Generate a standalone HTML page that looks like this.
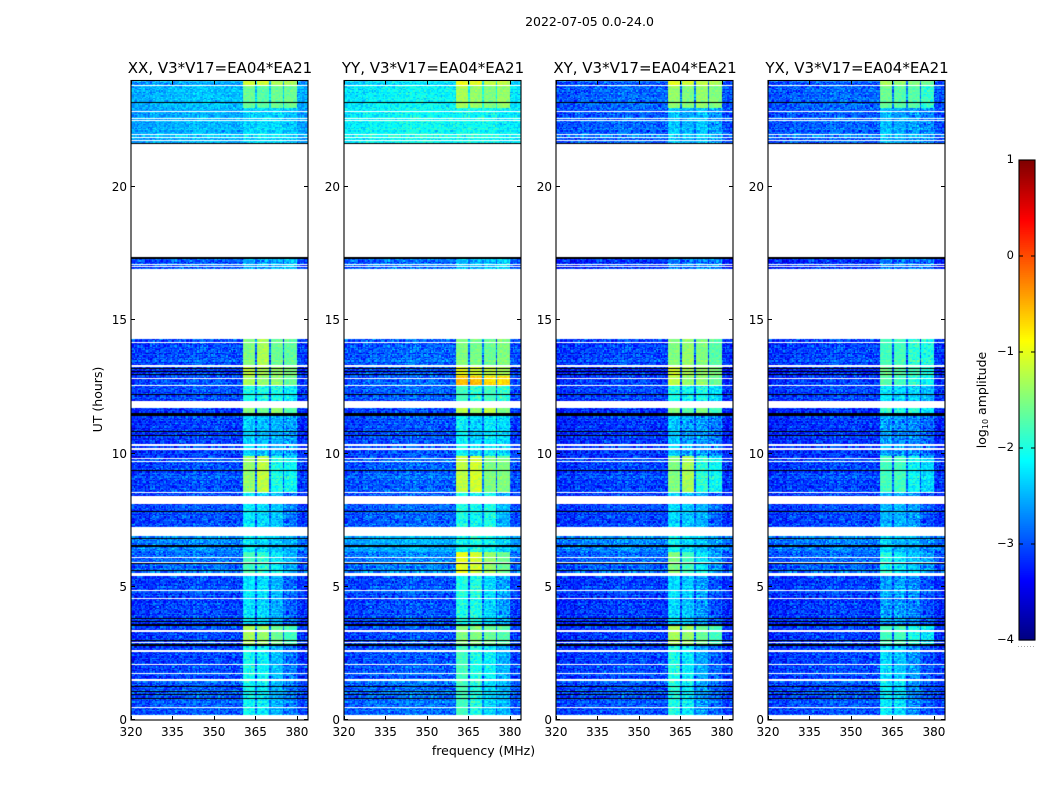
<!DOCTYPE html>
<html lang="en">
<head>
<meta charset="utf-8">
<title>2022-07-05 waterfall</title>
<style>
html,body{margin:0;padding:0;background:#fff;}
#figure{position:relative;width:1050px;height:800px;overflow:hidden;background:#fff;}
canvas{position:absolute;display:block;}
svg{position:absolute;left:0;top:0;}
text{font-family:"DejaVu Sans","Liberation Sans",sans-serif;fill:#000;}
</style>
</head>
<body>
<div id="figure">
<canvas id="hm0" style="left:131px;top:80px" width="177" height="640"></canvas>
<canvas id="hm1" style="left:344px;top:80px" width="177" height="640"></canvas>
<canvas id="hm2" style="left:556px;top:80px" width="177" height="640"></canvas>
<canvas id="hm3" style="left:768px;top:80px" width="177" height="640"></canvas>
<svg id="overlay" width="1050" height="800" viewBox="0 0 1050 800">
<text x="589.5" y="26" text-anchor="middle" font-size="12.5">2022-07-05 0.0-24.0</text>
<text x="483.5" y="755" text-anchor="middle" font-size="12.5">frequency (MHz)</text>
<text transform="translate(102,399.5) rotate(-90)" text-anchor="middle" font-size="12.5">UT (hours)</text>
<text transform="translate(986,400) rotate(-90)" text-anchor="middle" font-size="12.5">log<tspan font-size="8" dy="2">10</tspan><tspan dy="-2"> amplitude</tspan></text>
</svg>
</div>
<script>
// Observation blocks in UT hours
const blockStart = [23.79,22.95,21.65,16.92,13.30,12.90,12.57,11.80,11.50,9.90,8.56,6.90,6.30,5.50,3.60,2.80,1.45,0.19];
const blockEnd   = [23.98,23.79,22.95,17.37,14.30,13.30,12.90,12.57,11.80,11.50,9.90,8.56,6.90,6.30,5.50,3.60,2.80,1.45];

// Off-band log10 amplitude per block
const offXX = [-2.6,-2.5,-2.55,-3.0,-3.05,-3.15,-3.05,-3.05,-3.15,-3.15,-3.05,-3.05,-2.75,-2.9,-3.1,-3.1,-3.1,-3.0];
const offYY = [-2.3,-2.2,-2.15,-2.9,-2.95,-3.05,-2.95,-2.95,-3.05,-3.05,-2.95,-2.95,-2.55,-2.8,-3.05,-3.05,-3.0,-2.9];
const offXY = [-3.0,-2.95,-2.95,-3.2,-3.1,-3.25,-3.15,-3.1,-3.2,-3.2,-3.1,-3.1,-2.75,-2.95,-3.15,-3.15,-3.1,-3.05];
const offYX = [-3.0,-2.95,-2.95,-3.2,-3.1,-3.25,-3.15,-3.1,-3.2,-3.2,-3.1,-3.1,-2.8,-2.95,-3.15,-3.15,-3.1,-3.05];

// Sub-band log10 amplitude per block (four sub-bands)
const subXX = [[-1.1,-1.1,-1.3,-1.3],[-1.6,-1.7,-1.6,-1.6],[-2.35,-2.3,-2.3,-2.4],[-2.5,-2.6,-2.5,-2.4],[-1.5,-1.3,-1.6,-1.65],[-1.2,-1.3,-1.4,-1.5],[-1.3,-1.4,-1.4,-1.6],[-2.0,-2.0,-2.0,-2.2],[-1.5,-1.6,-1.4,-1.7],[-2.35,-2.45,-2.5,-2.6],[-1.4,-1.2,-2.0,-2.1],[-2.2,-2.3,-2.4,-2.8],[-2.2,-2.3,-2.4,-2.5],[-1.8,-1.9,-2.2,-2.5],[-2.25,-2.3,-2.5,-2.9],[-1.3,-1.4,-1.6,-1.8],[-2.05,-2.15,-2.45,-2.8],[-2.1,-2.2,-2.5,-2.8]];
const subYY = [[-0.95,-1.0,-1.2,-1.2],[-1.3,-1.4,-1.5,-1.4],[-2.1,-2.1,-2.1,-2.2],[-2.4,-2.5,-2.4,-2.3],[-1.5,-1.55,-1.6,-1.5],[-1.0,-1.1,-1.2,-1.3],[-0.55,-0.55,-0.7,-0.7],[-1.8,-1.9,-1.8,-1.9],[-1.25,-1.4,-1.2,-1.5],[-2.15,-2.35,-2.2,-2.3],[-1.2,-1.1,-1.5,-1.5],[-2.0,-2.1,-2.0,-2.5],[-2.1,-2.0,-2.1,-2.3],[-1.0,-1.1,-1.4,-1.6],[-2.0,-2.0,-2.3,-2.6],[-1.5,-1.5,-1.6,-1.7],[-1.8,-2.0,-2.15,-2.5],[-1.8,-2.0,-2.3,-2.5]];
const subXY = [[-1.0,-1.1,-1.2,-1.3],[-1.4,-1.5,-1.4,-1.5],[-2.4,-2.5,-2.4,-2.6],[-2.7,-2.8,-2.7,-2.7],[-1.5,-1.4,-1.5,-1.7],[-1.1,-1.3,-1.4,-1.5],[-1.2,-1.4,-1.4,-1.6],[-2.0,-2.1,-2.0,-2.3],[-1.5,-1.7,-1.5,-1.8],[-2.4,-2.6,-2.6,-2.8],[-1.5,-1.3,-1.9,-2.1],[-2.3,-2.4,-2.5,-2.9],[-2.1,-2.3,-2.4,-2.6],[-1.5,-1.8,-2.2,-2.6],[-2.3,-2.4,-2.6,-3.0],[-1.3,-1.4,-1.6,-1.8],[-2.0,-2.2,-2.55,-2.9],[-2.0,-2.2,-2.6,-2.9]];
const subYX = [[-1.3,-1.4,-1.5,-1.6],[-1.6,-1.7,-1.7,-1.9],[-2.45,-2.55,-2.6,-2.7],[-2.7,-2.8,-2.8,-2.8],[-1.8,-1.8,-1.9,-2.0],[-1.6,-1.7,-1.8,-2.0],[-1.7,-1.8,-1.9,-2.1],[-2.2,-2.3,-2.3,-2.5],[-1.9,-2.0,-1.9,-2.2],[-2.6,-2.7,-2.7,-2.9],[-1.8,-1.8,-2.1,-2.3],[-2.5,-2.5,-2.6,-3.0],[-2.3,-2.5,-2.5,-2.7],[-2.0,-2.2,-2.4,-2.6],[-2.6,-2.6,-2.7,-3.0],[-1.8,-1.8,-2.0,-2.2],[-2.3,-2.4,-2.65,-3.0],[-2.2,-2.3,-2.7,-3.0]];

// Sub-band edges in MHz
const subStart = [360.4,365.7,370.5,375.6];
const subEnd   = [364.8,369.8,374.9,379.8];

// Off-band spectral trend, one value per 8 MHz
const spectralTrend = [-0.05,0.0,0.06,0.08,0.04,0.0,0.0,-0.05,-0.2];

// Flagged (no data) intervals in UT hours
const gapStart = [23.78,22.81,22.55,22.48,21.97,21.84,21.74,17.37,17.09,16.99,14.30,14.15,13.30,13.25,12.80,12.55,11.76,11.70,10.30,10.15,9.79,9.67,8.52,8.10,6.90,6.08,5.90,5.42,4.85,4.55,3.31,2.88,2.57,2.07,1.73,1.48,0.46,0];
const gapEnd   = [23.82,22.85,22.60,22.52,22.01,21.88,21.78,21.60,17.13,17.03,16.92,14.19,13.34,13.29,12.84,12.59,11.97,11.74,10.34,10.19,9.85,9.71,8.56,8.42,7.24,6.12,5.94,5.50,4.89,4.59,3.38,2.92,2.61,2.11,1.77,1.52,0.50,0.19];

// Dark rows (very low amplitude) in UT hours
const darkStart = [23.16,21.63,17.30,13.18,13.05,12.93,12.21,11.41,10.81,10.64,9.36,7.82,6.80,6.51,5.86,5.60,3.79,3.67,3.52,2.96,2.77,1.23,1.04,0.92,0.77];
const darkEnd   = [23.20,21.67,17.38,13.22,13.09,12.97,12.25,11.52,10.85,10.68,9.40,7.86,6.84,6.55,5.90,5.64,3.83,3.71,3.59,3.00,2.85,1.27,1.08,0.96,0.81];

// Fixed speckle tables for receiver-noise texture
const speckleA = [0.12,-0.21,0.05,0.31,-0.09,-0.27,0.18,0.02,-0.14,0.26,-0.33,0.09,0.21,-0.05,-0.18,0.34,-0.24,0.07,0.15,-0.30,0.01,0.24,-0.11,-0.02,0.29,-0.19,0.11,-0.36,0.17,0.04,-0.08,0.22,-0.26,0.13,-0.16,0.28,-0.03];
const speckleB = [-0.08,0.14,-0.19,0.03,0.21,-0.12,0.07,-0.23,0.16,0.01,-0.06,0.19,-0.15,0.10,-0.02,0.24,-0.17,0.05,-0.10,0.12,-0.21,0.08,0.02];
const rowEffect = [0.04,-0.10,0.07,-0.03,0.12,-0.07,0.00,0.09,-0.12,0.05,-0.04,0.10,-0.08,0.02,0.06,-0.11,0.03,0.08,-0.05];

// Tick labels
const freqTicks = [320,335,350,365,380];
const hourTicks = [0,5,10,15,20];
const colorTicks = [-4,-3,-2,-1,0,1];
const colorTickLabels = ['\u22124','\u22123','\u22122','\u22121','0','1'];

const panelNames = ['XX','YY','XY','YX'];
const panelOff = [offXX,offYY,offXY,offYX];
const panelSub = [subXX,subYY,subXY,subYX];
const panelTitles = ['XX, V3*V17=EA04*EA21','YY, V3*V17=EA04*EA21','XY, V3*V17=EA04*EA21','YX, V3*V17=EA04*EA21'];

const SVGNS = 'http://www.w3.org/2000/svg';
const overlay = document.getElementById('overlay');
const plotLeft = [131,344,556,768];
const plotWidth = 177;
const plotTop = 80.5;
const plotBottom = 720;
const freqMin = 320, freqMax = 384, hourMax = 24;
const nChan = 128, nRow = 512;

function xScale(f, left){ return left + (f - freqMin) / (freqMax - freqMin) * plotWidth; }
function yScale(h){ return plotBottom - h / hourMax * (plotBottom - plotTop); }
function clamp01(v){ return Math.max(0, Math.min(1, v)); }
function jet(v){
  const t = clamp01((v + 4) / 5);
  const r = clamp01(1.5 - Math.abs(4 * t - 3));
  const g = clamp01(1.5 - Math.abs(4 * t - 2));
  const b = clamp01(1.5 - Math.abs(4 * t - 1));
  return 'rgb(' + Math.round(r * 255) + ',' + Math.round(g * 255) + ',' + Math.round(b * 255) + ')';
}
function levelAt(f, block, off, sub, ch, row){
  let base = off[block] + spectralTrend[Math.min(spectralTrend.length - 1, Math.floor((f - freqMin) / 8))];
  let inBand = false;
  for (let s = 0; s < subStart.length; s++) {
    if (f >= subStart[s] && f <= subEnd[s]) { base = sub[block][s]; inBand = true; }
  }
  if (!inBand && f > subStart[0] && f < subEnd[3]) base += 0.15;
  let amp = 1;
  if (base > -1.9) amp = 0.35;
  else if (base > -2.6) amp = 0.7;
  const a = speckleA[(ch * ch * 3 + row * row * 5 + ch * row) % speckleA.length];
  const b = speckleB[(ch * ch * 2 + row * row * 7 + ch * row * 3) % speckleB.length];
  return base + amp * (a + b + rowEffect[row % rowEffect.length]);
}
function drawHeatmap(p){
  const ctx = document.getElementById('hm' + p).getContext('2d');
  const ox = plotLeft[p], oy = 80;
  const off = panelOff[p], sub = panelSub[p];
  const chanWidth = (freqMax - freqMin) / nChan, rowHeight = hourMax / nRow;
  for (let b = 0; b < blockStart.length; b++) {
    const r0 = Math.floor(blockStart[b] / rowHeight), r1 = Math.ceil(blockEnd[b] / rowHeight);
    for (let r = r0; r < r1; r++) {
      const hLow = Math.max(blockStart[b], r * rowHeight), hHigh = Math.min(blockEnd[b], (r + 1) * rowHeight);
      const y0 = Math.round(yScale(hHigh)) - oy, y1 = Math.round(yScale(hLow)) - oy;
      if (y1 <= y0) continue;
      for (let c = 0; c < nChan; c++) {
        const f = freqMin + c * chanWidth;
        const x0 = Math.round(xScale(f, ox)) - ox, x1 = Math.round(xScale(f + chanWidth, ox)) - ox;
        if (x1 <= x0) continue;
        ctx.fillStyle = jet(levelAt(f + chanWidth / 2, b, off, sub, c, r));
        ctx.fillRect(x0, y0, x1 - x0, y1 - y0);
      }
    }
  }
  ctx.fillStyle = '#fff';
  for (let i = 0; i < gapStart.length; i++) {
    const y0 = Math.round(yScale(gapEnd[i])) - oy, y1 = Math.round(yScale(gapStart[i])) - oy;
    ctx.fillRect(0, y0, plotWidth, Math.max(1, y1 - y0));
  }
  ctx.fillStyle = '#000';
  for (let i = 0; i < darkStart.length; i++) {
    const y0 = Math.round(yScale(darkEnd[i])) - oy, y1 = Math.round(yScale(darkStart[i])) - oy;
    ctx.fillRect(0, y0, plotWidth, Math.max(1, y1 - y0));
  }
}
function line(x1, y1, x2, y2){
  const el = document.createElementNS(SVGNS, 'line');
  el.setAttribute('x1', x1);
  el.setAttribute('y1', y1);
  el.setAttribute('x2', x2);
  el.setAttribute('y2', y2);
  el.setAttribute('stroke', '#000');
  el.setAttribute('stroke-width', '1');
  overlay.appendChild(el);
  return el;
}
function label(str, x, y, anchor, size){
  const el = document.createElementNS(SVGNS, 'text');
  el.setAttribute('x', x);
  el.setAttribute('y', y);
  el.setAttribute('text-anchor', anchor);
  el.setAttribute('font-size', size);
  el.textContent = str;
  overlay.appendChild(el);
  return el;
}
function drawAxes(p){
  const left = plotLeft[p], right = left + plotWidth;
  const key = panelNames[p].toLowerCase();
  const frame = document.createElementNS(SVGNS, 'rect');
  frame.setAttribute('x', left);
  frame.setAttribute('y', plotTop);
  frame.setAttribute('width', plotWidth);
  frame.setAttribute('height', plotBottom - plotTop);
  frame.setAttribute('fill', 'none');
  frame.setAttribute('stroke', '#000');
  frame.setAttribute('stroke-width', '1.1');
  
  
  overlay.appendChild(frame);
  const title = label(panelTitles[p], left + plotWidth / 2 + 0.5, 73, 'middle', 15);
  
  
  freqTicks.forEach(function(f){
    const x = Math.round(xScale(f, left)) + 0.5;
    const tickBottom = line(x, plotBottom, x, plotBottom - 4);
    
    
    const tickTop = line(x, plotTop, x, plotTop + 4);
    
    
    const t = label(String(f), xScale(f, left), 736, 'middle', 12);
    
    
  });
  hourTicks.forEach(function(h){
    const y = Math.round(yScale(h)) - 0.5;
    const tickLeft = line(left, y, left + 4, y);
    
    
    const tickRight = line(right, y, right - 4, y);
    
    
    const t = label(String(h), left - 4, y + 4.5, 'end', 12);
    
    
  });
}
function drawColorbar(){
  const barLeft = 1019, barWidth = 16, barTop = 160, barBottom = 640;
  const cy = function(v){ return barBottom - (v + 4) / 5 * (barBottom - barTop); };
  const steps = 256;
  const group = document.createElementNS(SVGNS, 'g');
  
  
  overlay.appendChild(group);
  for (let i = 0; i < steps; i++) {
    const v0 = -4 + 5 * i / steps, v1 = -4 + 5 * (i + 1) / steps;
    const seg = document.createElementNS(SVGNS, 'rect');
    seg.setAttribute('x', barLeft);
    seg.setAttribute('y', cy(v1));
    seg.setAttribute('width', barWidth);
    seg.setAttribute('height', cy(v0) - cy(v1) + 0.6);
    seg.setAttribute('fill', jet((v0 + v1) / 2));
    group.appendChild(seg);
  }
  const frame = document.createElementNS(SVGNS, 'rect');
  frame.setAttribute('x', barLeft);
  frame.setAttribute('y', barTop);
  frame.setAttribute('width', barWidth);
  frame.setAttribute('height', barBottom - barTop);
  frame.setAttribute('fill', 'none');
  frame.setAttribute('stroke', '#000');
  frame.setAttribute('stroke-width', '1.1');
  
  
  overlay.appendChild(frame);
  colorTicks.forEach(function(v, i){
    const y = cy(v);
    const a = line(barLeft, y, barLeft + 4, y);
    
    
    const b = line(barLeft + barWidth - 4, y, barLeft + barWidth, y);
    
    
    const t = label(colorTickLabels[i], 1014, y + 3, 'end', 11.5);
    
    
  });
  for (let i = 0; i < 6; i++) {
    const dot = document.createElementNS(SVGNS, 'rect');
    dot.setAttribute('x', 1018 + i * 3);
    dot.setAttribute('y', 646);
    dot.setAttribute('width', 1);
    dot.setAttribute('height', 1);
    dot.setAttribute('fill', '#aaa');
    
    
    overlay.appendChild(dot);
  }
}
for (let p = 0; p < 4; p++) {
  drawHeatmap(p);
  drawAxes(p);
}
drawColorbar();
</script>
</body>
</html>
